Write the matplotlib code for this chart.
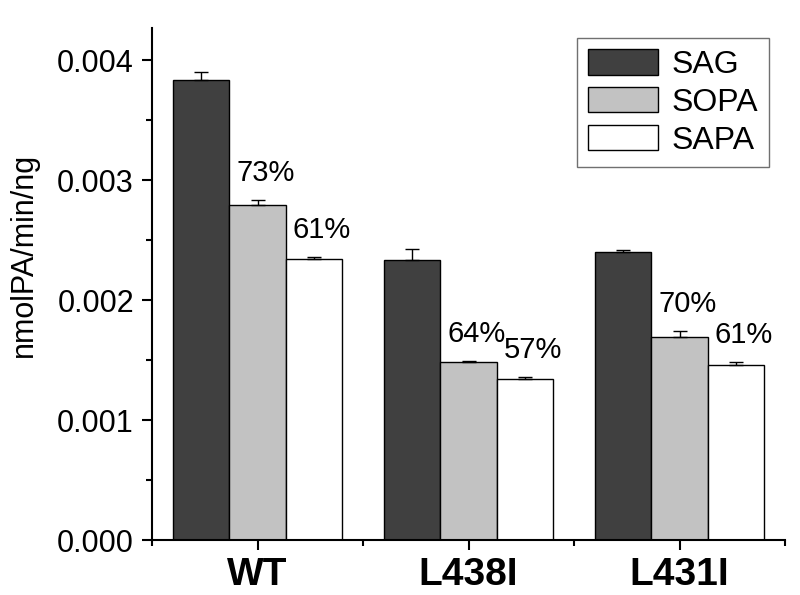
import matplotlib
matplotlib.use("Agg")
import matplotlib.pyplot as plt
import numpy as np

plt.rcParams['font.family'] = ['Liberation Sans', 'DejaVu Sans']

groups = ["WT", "L438I", "L431I"]
series = ["SAG", "SOPA", "SAPA"]
values = {
    "SAG":  [0.003833, 0.002333, 0.002406],
    "SOPA": [0.002792, 0.001486, 0.001694],
    "SAPA": [0.002344, 0.001339, 0.001461],
}
errors = {
    "SAG":  [0.000067, 0.000090, 0.000013],
    "SOPA": [0.000047, 0.000008, 0.000045],
    "SAPA": [0.000017, 0.000022, 0.000020],
}
pct_labels = {
    "SOPA": ["73%", "64%", "70%"],
    "SAPA": ["61%", "57%", "61%"],
}
colors = {"SAG": "#404040", "SOPA": "#c2c2c2", "SAPA": "#ffffff"}

fig = plt.figure(figsize=(8, 5.95), dpi=100)
ax = fig.add_axes([152/800, 1-540/595, (785-152)/800, (540-28)/595])

x = np.arange(1, len(groups) + 1)
w = 0.8 / 3
for i, s in enumerate(series):
    xs = x + (i - 1) * w
    vals = np.array(values[s])
    errs = np.array(errors[s])
    ax.bar(xs, vals, width=w, color=colors[s], edgecolor='black', linewidth=1.0, label=s, zorder=2)
    ax.errorbar(xs, vals, yerr=[np.zeros_like(errs), errs], fmt='none', ecolor='black',
                elinewidth=1.0, capsize=5, capthick=1.0, zorder=3)
    if s in pct_labels:
        for xi, v, e, t in zip(xs, vals, errs, pct_labels[s]):
            ax.annotate(t, xy=(xi, v + e), xytext=(8, 13), textcoords='offset pixels',
                        ha='center', va='bottom', fontsize=21)

ax.set_xlim(0.5, 3.5)
ax.set_ylim(0, 0.00427)
ax.set_yticks([0, 0.001, 0.002, 0.003, 0.004])
ax.set_yticklabels(["0.000", "0.001", "0.002", "0.003", "0.004"], fontsize=22)
ax.set_yticks(np.arange(0.0005, 0.0042, 0.001), minor=True)
ax.set_xticks(x)
ax.set_xticklabels(groups, fontsize=28, fontweight='bold')
ax.set_xticks([0.5, 1.5, 2.5, 3.5], minor=True)
ax.tick_params(axis='both', which='major', direction='out', length=7, width=1.5, pad=6)
ax.tick_params(axis='both', which='minor', direction='out', length=4, width=1.5)
ax.tick_params(axis='x', which='major', pad=5)
for sp in ['top', 'right']:
    ax.spines[sp].set_visible(False)
for sp in ['left', 'bottom']:
    ax.spines[sp].set_linewidth(1.5)

ax.set_ylabel("nmolPA/min/ng", fontsize=22)
ax.yaxis.set_label_coords(-0.178, 0.557)

leg = ax.legend(loc='upper right', bbox_to_anchor=(769/800, 1-38/595), bbox_transform=fig.transFigure,
                borderaxespad=0, fontsize=23, handlelength=2.2, handleheight=0.85,
                labelspacing=0.22, borderpad=0.35, handletextpad=0.4, fancybox=False,
                framealpha=1, edgecolor='#707070')
leg.get_frame().set_linewidth(1.0)

fig.savefig("out.png", dpi=100)
